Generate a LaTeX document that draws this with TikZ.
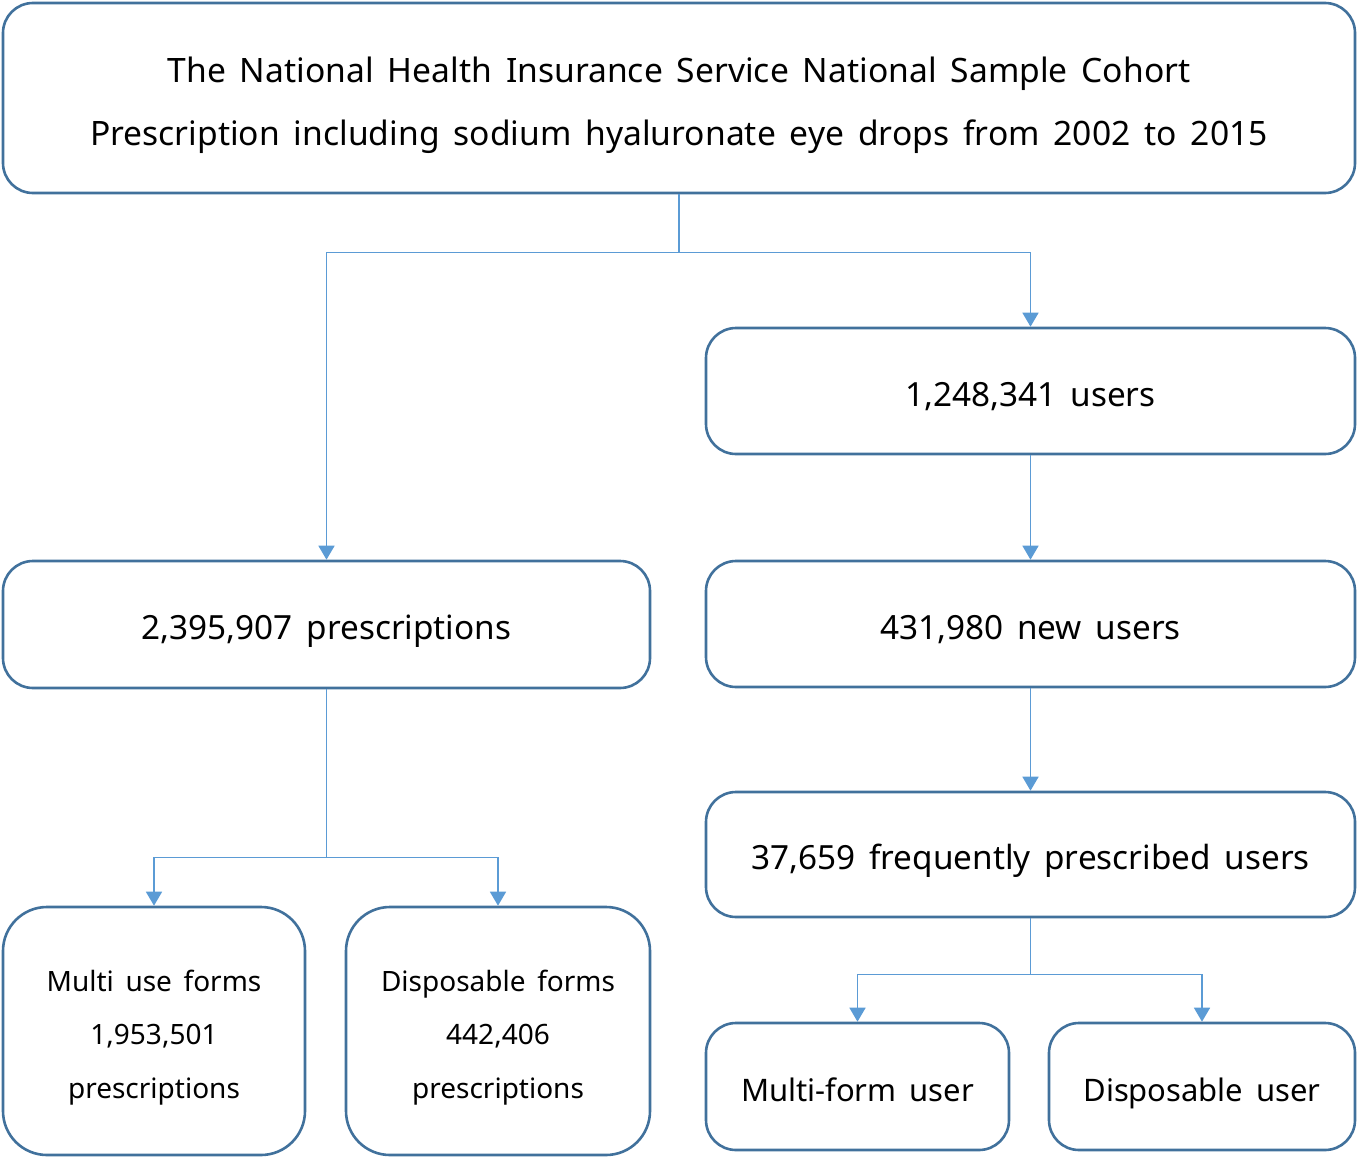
\documentclass[tikz,border=0pt]{standalone}
\usepackage{fontspec}
\setmainfont[WordSpace=1.6]{Noto Sans}
\usetikzlibrary{arrows.meta}
\definecolor{boxc}{HTML}{41719C}
\definecolor{linec}{HTML}{5B9BD5}
\begin{document}
\begin{tikzpicture}[x=1pt,y=-1pt,
  box/.style={draw=boxc,line width=2.6pt,rounded corners=30pt,rectangle,inner sep=0pt,align=center,
    text height=30pt,text depth=0pt,font=\fontsize{33.3}{63}\selectfont},
  smallbox/.style={box,font=\fontsize{31}{40}\selectfont},
  tallbox/.style={box,rounded corners=44pt},
  txt/.style={inner sep=0pt,align=center},
  conn/.style={draw=linec,line width=1.6pt},
  arr/.style={conn,-{Triangle[width=16pt,length=14pt]}}]
\useasboundingbox (0,0) rectangle (1358,1159);
\node[box,minimum width=1352pt,minimum height=190pt] (top) at (679,98) {};
\node[txt,font=\fontsize{33.6}{63}\selectfont] (toptext) at (679,105.5)
  {The National Health Insurance Service National Sample Cohort\\Prescription including sodium hyaluronate eye drops from 2002 to 2015};
\node[box,minimum width=649pt,minimum height=126pt] (users) at (1030.5,391) {1,248,341 users};
\node[box,minimum width=649pt,minimum height=126pt] (newu) at (1030.5,624) {431,980 new users};
\node[box,minimum width=647pt,minimum height=127pt] (presc) at (326.5,624.5) {2,395,907 prescriptions};
\node[box,minimum width=649pt,minimum height=125pt] (freq) at (1030.5,854.5) {37,659 frequently prescribed users};
\node[smallbox,minimum width=303pt,minimum height=127pt] (mform) at (857.5,1086.5) {Multi-form user};
\node[smallbox,minimum width=306pt,minimum height=127pt] (duser) at (1202,1086.5) {Disposable user};
\node[tallbox,minimum width=302pt,minimum height=248pt] (multi) at (154,1031) {};
\node[tallbox,minimum width=304pt,minimum height=248pt] (disp) at (498,1031) {};
\node[txt,font=\fontsize{28}{53.5}\selectfont] (multitext) at (154,1037.5) {Multi use forms\\1,953,501\\prescriptions};
\node[txt,font=\fontsize{28}{53.5}\selectfont] (disptext) at (498,1037.5) {Disposable forms\\442,406\\prescriptions};
\draw[conn] (top.south) -- ++(0,58) coordinate (j1);
\draw[arr] (j1) -| (presc.north);
\draw[arr] (j1) -| (users.north);
\draw[arr] (users.south) -- (newu.north);
\draw[arr] (newu.south) -- (freq.north);
\draw[conn] (presc.south) -- ++(0,168) coordinate (j2);
\draw[arr] (j2) -| (multi.north);
\draw[arr] (j2) -| (disp.north);
\draw[conn] (freq.south) -- ++(0,56) coordinate (j3);
\draw[arr] (j3) -| (mform.north);
\draw[arr] (j3) -| (duser.north);
\end{tikzpicture}
\end{document}
